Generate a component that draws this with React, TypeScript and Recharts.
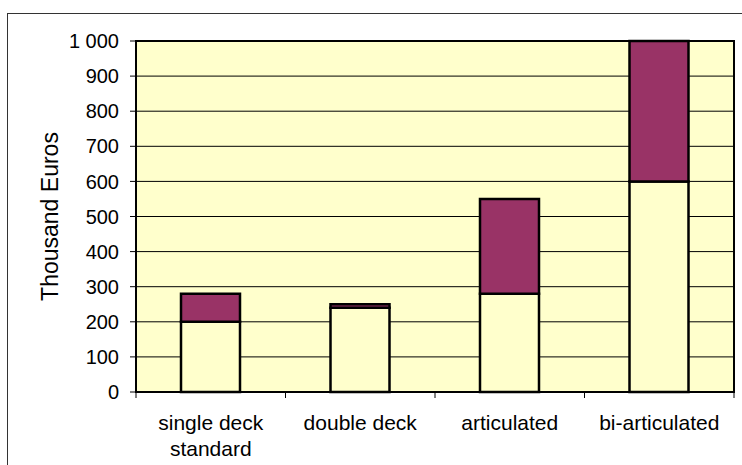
import React from "react";
import {
  BarChart,
  Bar,
  XAxis,
  YAxis,
  CartesianGrid,
  ReferenceArea,
} from "recharts";

// Bus types and their cost split (thousand euros)
const categories = ["single deck standard", "double deck", "articulated", "bi-articulated"];
const baseCost = [200, 240, 280, 600];
const extraCost = [80, 10, 270, 400];
const yTicks = [0, 100, 200, 300, 400, 500, 600, 700, 800, 900, 1000];

// Each bus type sits in the middle of a unit-wide slot on a numeric axis,
// so slot boundaries (integers) can carry the tick marks.
const data = categories.map((name, i) => ({
  name,
  pos: i + 0.5,
  base: baseCost[i],
  extra: extraCost[i],
}));
const xTicks: number[] = [];
for (let i = 0; i <= categories.length * 2; i++) xTicks.push(i / 2);

const FONT = "'Liberation Sans', Arial, sans-serif";
const PLOT_BG = "#FFFFCC";
const MAROON = "#993366";
const MAX_LINE_CHARS = 14;

const formatThousands = (v: number) =>
  String(v).replace(/\B(?=(\d{3})+(?!\d))/g, " ");

// Greedy word wrap by character count
const wrapLabel = (label: string) => {
  const lines: string[] = [];
  let current = "";
  for (const word of label.split(" ")) {
    const next = current ? current + " " + word : word;
    if (current && next.length > MAX_LINE_CHARS) {
      lines.push(current);
      current = word;
    } else {
      current = next;
    }
  }
  if (current) lines.push(current);
  return lines;
};

const XTick = (props: any) => {
  const { x, y, payload } = props;
  const v = payload.value as number;
  if (Number.isInteger(v)) {
    return <line x1={x} y1={y} x2={x} y2={y + 6} stroke="#000" strokeWidth={1} />;
  }
  const lines = wrapLabel(categories[Math.floor(v)]);
  return (
    <text x={x} y={y + 38} textAnchor="middle" fontSize={21} fontFamily={FONT} fill="#000">
      {lines.map((line, i) => (
        <tspan key={i} x={x} dy={i === 0 ? 0 : 26}>
          {line}
        </tspan>
      ))}
    </text>
  );
};

const YLabel = (props: any) => {
  const vb = props.viewBox || { x: 0, y: 41, width: 136, height: 351 };
  const cx = vb.x + 58;
  const cy = vb.y + vb.height / 2;
  return (
    <text
      x={cx}
      y={cy}
      transform={`rotate(-90, ${cx}, ${cy})`}
      textAnchor="middle"
      fontSize={23}
      fontFamily={FONT}
      fill="#000"
    >
      Thousand Euros
    </text>
  );
};

export default function App() {
  return (
    <div style={{ position: "absolute", left: 0, top: 0, width: 742, height: 465 }}>
      <div
        style={{
          position: "absolute",
          left: 7,
          top: 13,
          width: 735,
          height: 452,
          boxSizing: "border-box",
          borderTop: "1px solid #333",
          borderLeft: "1px solid #333",
        }}
      />
      <BarChart
        width={742}
        height={465}
        data={data}
        margin={{ top: 41, right: 8, bottom: 0, left: 0 }}
        style={{ position: "absolute", left: 0, top: 0 }}
      >
        <CartesianGrid
          horizontal
          vertical={false}
          stroke="#000"
          strokeWidth={1}
          fill={PLOT_BG}
          fillOpacity={1}
        />
        <XAxis
          dataKey="pos"
          type="number"
          domain={[0, categories.length]}
          ticks={xTicks}
          interval={0}
          height={73}
          tickSize={0}
          tickMargin={0}
          tickLine={false}
          axisLine={{ stroke: "#000", strokeWidth: 2 }}
          tick={<XTick />}
        />
        <YAxis
          type="number"
          domain={[0, 1000]}
          ticks={yTicks}
          interval={0}
          width={136}
          tickSize={6}
          tickMargin={11}
          tickFormatter={formatThousands}
          tick={{ fontSize: 20, fontFamily: FONT, fill: "#000" }}
          tickLine={{ stroke: "#000", strokeWidth: 1 }}
          axisLine={{ stroke: "#000", strokeWidth: 2 }}
          label={<YLabel />}
        />
        <Bar
          dataKey="base"
          stackId="cost"
          fill={PLOT_BG}
          stroke="#000"
          strokeWidth={2.5}
          barSize={59}
          isAnimationActive={false}
        />
        <Bar
          dataKey="extra"
          stackId="cost"
          fill={MAROON}
          stroke="#000"
          strokeWidth={2.5}
          barSize={59}
          isAnimationActive={false}
        />
        <ReferenceArea
          y1={0}
          y2={1000}
          fill="none"
          stroke="#000"
          strokeWidth={2}
          ifOverflow="visible"
        />
      </BarChart>
    </div>
  );
}
